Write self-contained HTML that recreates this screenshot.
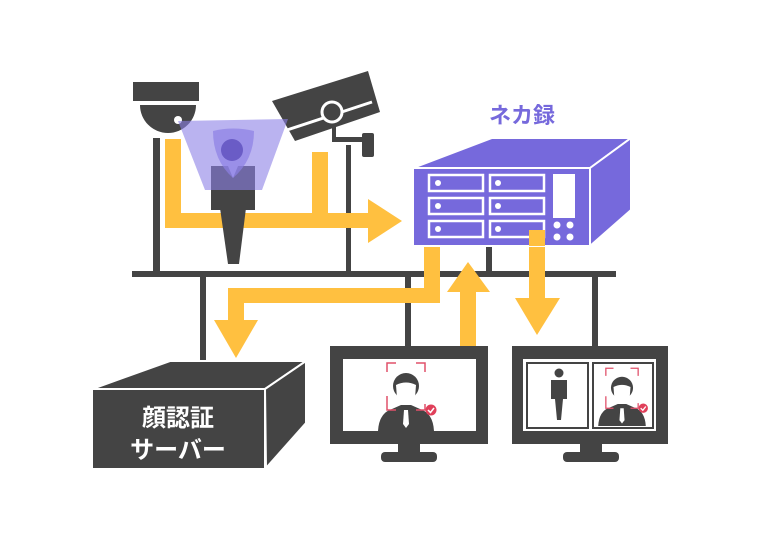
<!DOCTYPE html>
<html><head><meta charset="utf-8"><style>
html,body{margin:0;padding:0;background:#fff;}
svg{display:block;}
text{font-family:"Liberation Sans","Noto Sans CJK JP",sans-serif;font-weight:bold;}
</style></head><body>
<svg width="760" height="540" viewBox="0 0 760 540" xmlns="http://www.w3.org/2000/svg">
<defs>
<g id="face">
<path d="M378 431 Q379 413 392 409 L401 405 L411 405 L420 409 Q433 413 434 431 Z" fill="#444"/>
<circle cx="406" cy="386" r="13" fill="#444"/>
<path d="M396 385 Q406 380 416 385 L415 398 Q406 407 397 398 Z" fill="#fff"/>
<path d="M404 410 L408 410 L409 424 L406 428 L403 424 Z" fill="#fff"/>
<path d="M387 372 V363 H396 M416 363 H425 V372 M387 396 V410 H396 M416 410 H425 V404" stroke="#e0506a" stroke-width="1.5" fill="none"/>
<circle cx="431" cy="410" r="5.5" fill="#e0405a"/>
<path d="M428 410 L430.5 412.5 L434 408" stroke="#fff" stroke-width="1.5" fill="none"/>
</g>
</defs>
<g fill="#444">
<rect x="132" y="271" width="484" height="6"/>
<rect x="153" y="138" width="7" height="137"/>
<rect x="346" y="145" width="5" height="130"/>
<rect x="486" y="244" width="6" height="30"/>
<rect x="200" y="275" width="6" height="92"/>
<rect x="405" y="275" width="6" height="73"/>
<rect x="592" y="275" width="6" height="73"/>
<rect x="133" y="82" width="66" height="19"/>
<path d="M140 105 H196 A28 28 0 0 1 140 105 Z"/>
<path d="M272 101 L368 71 L380 112 L295 141 Z"/>
<rect x="332" y="118" width="4" height="22"/>
<rect x="332" y="137" width="32" height="5"/>
<rect x="362" y="133" width="12" height="24" rx="2"/>
</g>
<circle cx="178" cy="120" r="4" fill="#fff"/>
<path d="M287 130 L372 102" stroke="#fff" stroke-width="3"/>
<circle cx="332" cy="112" r="10" fill="#444" stroke="#fff" stroke-width="3"/>
<!-- yellow arrows -->
<g fill="#ffc040">
<rect x="165" y="139" width="16" height="89"/>
<rect x="312" y="152" width="16" height="62"/>
<rect x="165" y="213" width="205" height="15"/>
<path d="M368 199 L402 221 L368 243 Z"/>
<rect x="424" y="244" width="16" height="59"/>
<rect x="228" y="288" width="212" height="15"/>
<rect x="228" y="288" width="16" height="34"/>
<path d="M214 320 L258 320 L236 358 Z"/>
<rect x="460" y="288" width="16" height="60"/>
<path d="M447 292 L468 262 L490 292 Z"/>
<rect x="529" y="230" width="16" height="70"/>
<path d="M515 298 L537 335 L560 298 Z"/>
</g>
<!-- person -->
<g fill="#444">
<rect x="211" y="166" width="44" height="44"/>
<path d="M220 208 L246 208 L239 264 L228 264 Z"/>
</g>
<path d="M228 166 L233 178 L238 166 Z" fill="#fff"/>
<path d="M178 121 L288 119 L262 190 L205 190 Z" fill="#8c80e6" opacity="0.6"/>
<path d="M213 131 Q233 126 254 131 Q254 160 233 178 Q213 160 213 131 Z" fill="#8d80e4" opacity="0.7"/>
<circle cx="232" cy="150" r="11" fill="#6a5cc6"/>
<!-- NVR -->
<text x="522" y="123" font-size="22" fill="#7669dc" text-anchor="middle">ネカ録</text>
<g fill="#7669dc" stroke="#fff" stroke-width="2">
<path d="M413 168 L492 138 L631 138 L590 168 Z"/>
<path d="M590 168 L631 138 L631 210 L590 246 Z"/>
<rect x="413" y="168" width="177" height="78"/>
</g>
<g fill="none" stroke="#fff" stroke-width="2.5">
<rect x="429" y="175" width="54" height="16"/><rect x="490" y="175" width="54" height="16"/>
<rect x="429" y="198" width="54" height="16"/><rect x="490" y="198" width="54" height="16"/>
<rect x="429" y="221" width="54" height="16"/><rect x="490" y="221" width="54" height="16"/>
</g>
<g fill="#fff">
<circle cx="438" cy="183" r="3"/><circle cx="498" cy="183" r="3"/>
<circle cx="438" cy="206" r="3"/><circle cx="498" cy="206" r="3"/>
<circle cx="438" cy="229" r="3"/><circle cx="498" cy="229" r="3"/>
<rect x="553" y="174" width="22" height="44"/>
<circle cx="557" cy="225" r="3.5"/><circle cx="570" cy="225" r="3.5"/>
<circle cx="557" cy="237" r="3.5"/><circle cx="570" cy="237" r="3.5"/>
</g>
<rect x="529" y="230" width="16" height="16" fill="#ffc040"/>
<!-- server -->
<g fill="#444" stroke="#fff" stroke-width="2">
<path d="M92 389 L170 361 L306 361 L265 389 Z"/>
<path d="M265 389 L306 361 L306 423 L266 468 Z"/>
<rect x="92" y="389" width="173" height="80"/>
</g>
<text x="178" y="426" font-size="24" fill="#fff" text-anchor="middle">顔認証</text>
<text x="178" y="458" font-size="24" fill="#fff" text-anchor="middle">サーバー</text>
<!-- monitors -->
<g fill="#444">
<rect x="330" y="346" width="158" height="98"/>
<rect x="398" y="444" width="22" height="9"/>
<rect x="381" y="452" width="56" height="10" rx="4"/>
<rect x="512" y="346" width="156" height="98"/>
<rect x="580" y="444" width="22" height="9"/>
<rect x="563" y="452" width="56" height="10" rx="4"/>
</g>
<rect x="343" y="359" width="133" height="72" fill="#fff"/>
<rect x="523" y="359" width="133" height="72" fill="#fff"/>
<rect x="527" y="363" width="61" height="65" fill="none" stroke="#444" stroke-width="2"/>
<rect x="593" y="363" width="60" height="65" fill="none" stroke="#444" stroke-width="2"/>
<use href="#face"/>
<g transform="translate(622,398) scale(0.85) translate(-406,-398)"><use href="#face"/></g>
<circle cx="559" cy="373" r="4.5" fill="#444"/>
<path d="M551 380 H567 V399 H563 L561 420 H557 L555 399 H551 Z" fill="#444"/>
</svg>
</body></html>
